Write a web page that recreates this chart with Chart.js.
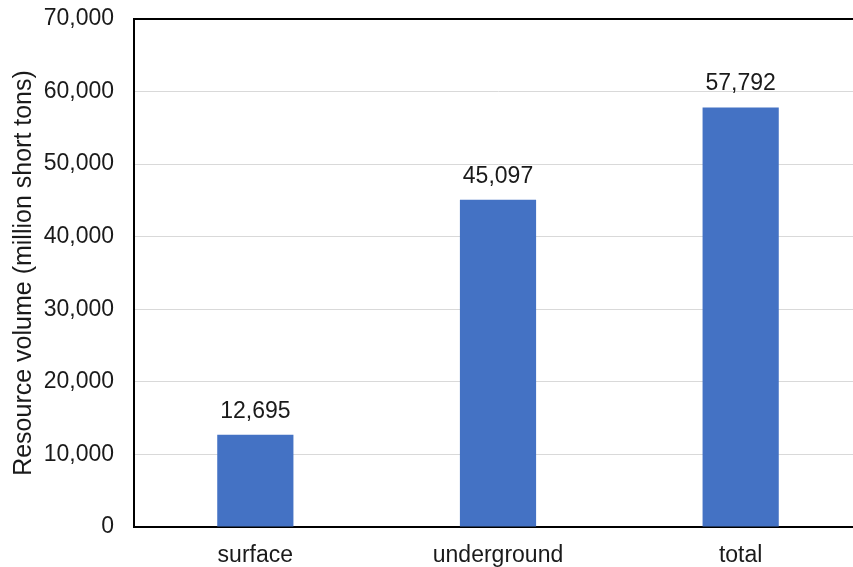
<!DOCTYPE html>
<html>
<head>
<meta charset="utf-8">
<script src="https://cdn.jsdelivr.net/npm/chart.js@4/dist/chart.umd.min.js"></script>
<style>
    html, body { margin: 0; padding: 0; background: #fff; overflow: hidden; }
    #wrap { width: 862px; height: 567px; }
</style>
</head>
<body>
<div id="wrap"><canvas id="chart"></canvas></div>
<script>
const categories = ['surface', 'underground', 'total'];
const volumes = [12695, 45097, 57792];
const yMax = 70000;
const yStep = 10000;
const yTitle = 'Resource volume (million short tons)';

const fontFamily = '"Liberation Sans", Arial, sans-serif';
const textColor = '#1a1a1a';

// draws the value above each bar
let barLabels = {
    id: 'barLabels',
    afterDatasetsDraw(chart) {
        let ctx = chart.ctx;
        let meta = chart.getDatasetMeta(0);
        ctx.save();
        ctx.font = '23px ' + fontFamily;
        ctx.fillStyle = textColor;
        ctx.textAlign = 'center';
        ctx.textBaseline = 'bottom';
        meta.data.forEach((bar, i) => {
            ctx.fillText(volumes[i].toLocaleString('en-US'), bar.x, bar.y - 12);
        });
        ctx.restore();
    }
};

let ctx = document.getElementById('chart').getContext('2d');
new Chart(ctx, {
    type: 'bar',
    data: {
        labels: categories,
        datasets: [{
            data: volumes,
            backgroundColor: '#4472c4',
            borderWidth: 0,
            barPercentage: 0.314,
            categoryPercentage: 1
        }]
    },
    options: {
        responsive: true,
        maintainAspectRatio: false,
        animation: false,
        layout: { padding: { top: 19, right: 0, left: 0, bottom: 0 } },
        plugins: {
            legend: { display: false },
            tooltip: { enabled: false }
        },
        scales: {
            x: {
                grid: { display: false },
                border: { display: true, color: '#000', width: 2 },
                ticks: { color: textColor, font: { family: fontFamily, size: 23 }, padding: 7 },
                afterFit: (scale) => { scale.height = 40; }
            },
            y: {
                min: 0,
                max: yMax,
                ticks: {
                    stepSize: yStep,
                    color: textColor,
                    padding: 20,
                    font: { family: fontFamily, size: 23 },
                    callback: (v) => v.toLocaleString('en-US')
                },
                grid: {
                    color: (c) => c.tick && c.tick.value === yMax ? '#000' : '#d9d9d9',
                    lineWidth: (c) => c.tick && c.tick.value === yMax ? 2 : 1,
                    drawTicks: false
                },
                border: { display: true, color: '#000', width: 2 },
                title: {
                    display: true,
                    text: yTitle,
                    color: textColor,
                    font: { family: fontFamily, size: 25 },
                    padding: { top: 9, bottom: 0 }
                },
                afterFit: (scale) => {
                    scale.width = 134;
                    scale.paddingTop = 0;
                    scale.paddingBottom = 0;
                }
            }
        }
    },
    plugins: [barLabels]
});
</script>
</body>
</html>
